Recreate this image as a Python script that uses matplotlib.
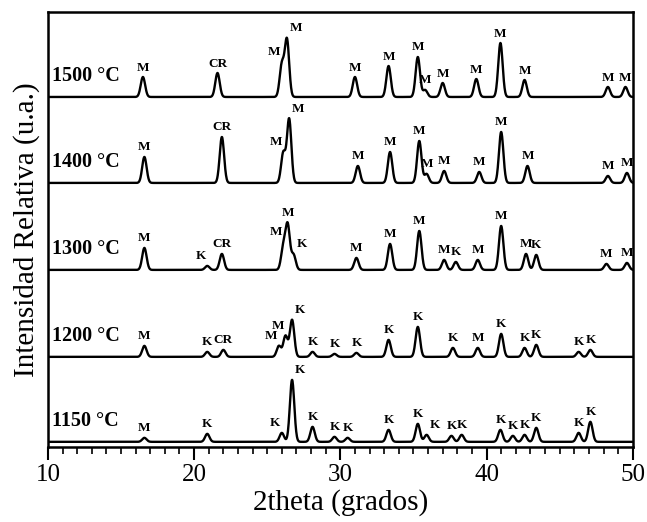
import matplotlib
matplotlib.use("Agg")
import matplotlib.pyplot as plt
import numpy as np
from matplotlib.ticker import MultipleLocator

plt.rcParams['font.family'] = ['Liberation Serif', 'DejaVu Serif']

# trace names, bottom to top
temps = ["1150 °C", "1200 °C", "1300 °C", "1400 °C", "1500 °C"]
offsets = [5, 90, 177, 264, 350]

# peak positions (2theta) and heights
pos_1150 = [16.6, 20.9, 26.0, 26.7, 28.1, 29.6, 30.5, 33.3, 35.3, 35.9, 37.6, 38.3, 40.95, 41.8, 42.6, 43.4, 46.3, 47.1]
int_1150 = [4, 8, 9, 62, 15, 5, 4, 12, 18, 7, 6, 7, 12, 6, 7, 14, 9, 20]
lab_1150 = [(16.6, "M", "c"), (20.9, "K", "c"), (26.0, "K", "l"), (26.7, "K", "r"), (28.1, "K", "c"),
            (29.6, "K", "c"), (30.5, "K", "c"), (33.3, "K", "c"), (35.3, "K", "c"), (35.9, "K", "r"),
            (37.6, "K", "c"), (38.3, "K", "c"), (40.95, "K", "c"), (41.8, "K", "c"), (42.6, "K", "c"),
            (43.4, "K", "c"), (46.3, "K", "c"), (47.1, "K", "c")]

pos_1200 = [16.6, 20.9, 22.0, 25.8, 26.25, 26.7, 28.1, 29.6, 31.1, 33.3, 35.3, 37.7, 39.4, 41.0, 42.6, 43.4, 46.3, 47.1]
int_1200 = [11, 5, 7, 11, 21, 37, 5, 3, 4, 17, 30, 9, 9, 23, 9, 12, 5, 7]
lab_1200 = [(16.6, "M", "c"), (20.9, "K", "c"), (22.0, "CR", "c"), (25.8, "M", "l"), (26.25, "M", "l"),
            (26.7, "K", "r"), (28.1, "K", "c"), (29.6, "K", "c"), (31.1, "K", "c"), (33.3, "K", "c"),
            (35.3, "K", "c"), (37.7, "K", "c"), (39.4, "M", "c"), (41.0, "K", "c"), (42.6, "K", "c"),
            (43.4, "K", "c"), (46.3, "K", "c"), (47.1, "K", "c")]

pos_1300 = [16.6, 20.9, 21.9, 26.1, 26.4, 26.8, 31.1, 33.4, 35.4, 37.1, 37.9, 39.4, 41.0, 42.7, 43.4, 48.2, 49.6]
int_1300 = [22, 4, 16, 22, 44, 15, 12, 26, 39, 10, 8, 10, 44, 16, 15, 6, 7]
lab_1300 = [(16.6, "M", "c"), (20.9, "K", "l"), (21.9, "CR", "c"), (26.1, "M", "l"), (26.4, "M", "c"),
            (26.8, "K", "r"), (31.1, "M", "c"), (33.4, "M", "c"), (35.4, "M", "c"), (37.1, "M", "c"),
            (37.9, "K", "c"), (39.4, "M", "c"), (41.0, "M", "c"), (42.7, "M", "c"), (43.4, "K", "c"),
            (48.2, "M", "c"), (49.6, "M", "c")]

pos_1400 = [16.6, 21.9, 26.1, 26.5, 31.2, 33.4, 35.4, 35.9, 37.1, 39.5, 41.0, 42.8, 48.3, 49.6]
int_1400 = [26, 46, 30, 64, 17, 31, 42, 9, 12, 11, 51, 17, 7, 10]
lab_1400 = [(16.6, "M", "c"), (21.9, "CR", "c"), (26.1, "M", "l"), (26.5, "M", "r"), (31.2, "M", "c"),
            (33.4, "M", "c"), (35.4, "M", "c"), (35.9, "M", "c"), (37.1, "M", "c"), (39.5, "M", "c"),
            (41.0, "M", "c"), (42.8, "M", "c"), (48.3, "M", "c"), (49.6, "M", "c")]

pos_1500 = [16.5, 21.6, 26.0, 26.35, 31.0, 33.3, 35.3, 35.8, 37.0, 39.3, 40.95, 42.6, 48.3, 49.5]
int_1500 = [20, 24, 32, 57, 20, 31, 40, 7, 14, 18, 54, 17, 10, 10]
lab_1500 = [(16.5, "M", "c"), (21.6, "CR", "c"), (26.0, "M", "l"), (26.35, "M", "r"), (31.0, "M", "c"),
            (33.3, "M", "c"), (35.3, "M", "c"), (35.8, "M", "c"), (37.0, "M", "c"), (39.3, "M", "c"),
            (40.95, "M", "c"), (42.6, "M", "c"), (48.3, "M", "c"), (49.5, "M", "c")]

all_pos = [pos_1150, pos_1200, pos_1300, pos_1400, pos_1500]
all_int = [int_1150, int_1200, int_1300, int_1400, int_1500]
all_lab = [lab_1150, lab_1200, lab_1300, lab_1400, lab_1500]


def pattern(tt, pos, heights, sigma=0.15):
    y = np.zeros_like(tt)
    for p, h in zip(pos, heights):
        y += h * np.exp(-0.5 * ((tt - p) / sigma) ** 2)
    return y


def plot_xrd(out_path):
    fig = plt.figure(figsize=(6.47, 5.22), dpi=100)
    ax = fig.add_axes([0.074, 0.144, 0.904, 0.833])

    tt = np.linspace(10, 50, 2401)
    side_cfg = {"c": ("center", 0), "l": ("right", -1), "r": ("left", 2)}

    for name, off, pos, hts, labs in zip(temps, offsets, all_pos, all_int, all_lab):
        y = pattern(tt, pos, hts)
        ax.plot(tt, off + y, color='black', lw=1.7)
        ax.text(10.25, off + 21, name, ha='left', va='center', fontsize=14.5, fontweight='bold')
        for p, txt, side in labs:
            ha, dx = side_cfg[side]
            yp = off + pattern(np.array([p]), pos, hts)[0]
            ax.annotate(txt, xy=(p, yp), xytext=(dx, 2.5), textcoords='offset points',
                        ha=ha, va='bottom', fontsize=9.5, fontweight='bold')

    ax.set_xlim(10, 50)
    ax.set_ylim(0, 435)
    ax.xaxis.set_major_locator(MultipleLocator(10))
    ax.xaxis.set_minor_locator(MultipleLocator(1))
    ax.tick_params(axis='x', which='major', direction='out', length=9, width=1.5, labelsize=18)
    ax.tick_params(axis='x', which='minor', direction='out', length=5, width=1.2)
    ax.tick_params(axis='y', left=False, labelleft=False)
    for sp in ax.spines.values():
        sp.set_linewidth(1.8)

    ax.set_xlabel("2theta (grados)", fontsize=21, labelpad=2)
    ax.set_ylabel("Intensidad Relativa (u.a.)", fontsize=21, labelpad=6)

    fig.savefig(out_path, dpi=100)


def main():
    plot_xrd("out.png")


if __name__ == "__main__":
    main()
